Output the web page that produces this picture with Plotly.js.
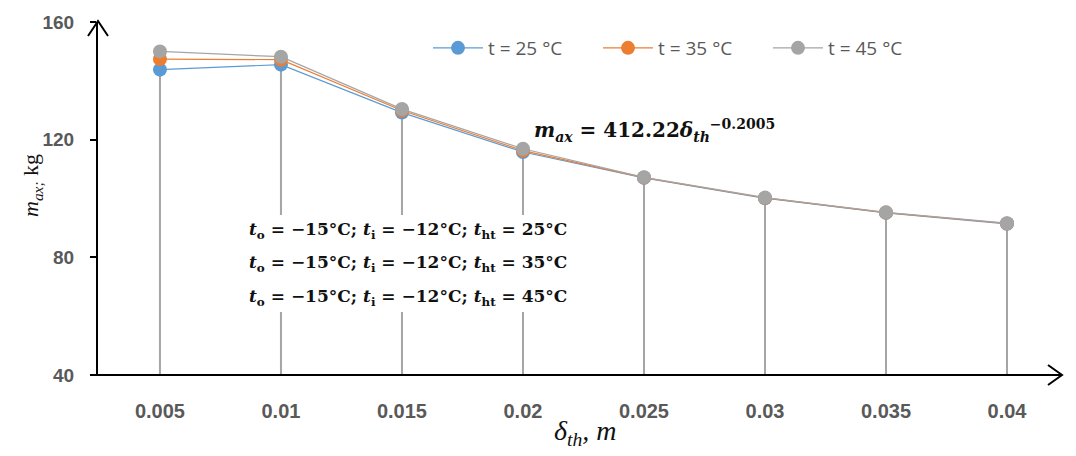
<!DOCTYPE html>
<html><head><meta charset="utf-8">
<script src="https://cdn.plot.ly/plotly-3.0.1.min.js"></script>
<style>body{margin:0;background:#fff}#c{width:1076px;height:456px}</style>
</head><body><div id="c"></div>
<script>
// Data
const thickness = [0.005, 0.01, 0.015, 0.02, 0.025, 0.03, 0.035, 0.04];
const tickLabels = ["0.005", "0.01", "0.015", "0.02", "0.025", "0.03", "0.035", "0.04"];
const m25 = [143.8, 145.5, 129.2, 115.8, 107.0, 100.1, 95.1, 91.4];
const m35 = [147.4, 147.2, 129.9, 116.3, 107.1, 100.2, 95.2, 91.5];
const m45 = [150.0, 148.2, 130.4, 116.9, 107.2, 100.3, 95.3, 91.6];
const seriesNames = ["t = 25 °C", "t = 35 °C", "t = 45 °C"];
const yMin = 40, yMax = 160;

const dropMinus = m45.map(v => v - yMin);

const traces = [
  {x: thickness, y: m45, type: 'scatter', mode: 'markers', showlegend: false, hoverinfo: 'skip',
   marker: {size: 1, opacity: 0},
   error_y: {type: 'data', symmetric: false, array: m45.map(() => 0), arrayminus: dropMinus,
             color: '#A5A5A5', thickness: 2, width: 0}},
  {x: thickness, y: m25, name: seriesNames[0], type: 'scatter', mode: 'lines+markers',
   line: {color: '#5B9BD5', width: 1.2}, marker: {color: '#5B9BD5', size: 14}},
  {x: thickness, y: m35, name: seriesNames[1], type: 'scatter', mode: 'lines+markers',
   line: {color: '#ED7D31', width: 1.2}, marker: {color: '#ED7D31', size: 14}},
  {x: thickness, y: m45, name: seriesNames[2], type: 'scatter', mode: 'lines+markers',
   line: {color: '#A5A5A5', width: 1.2}, marker: {color: '#A5A5A5', size: 14}}
];

const W = 962, H = 353; // plot area px
function px(x){return (x-98)/W;}
function py(y){return (375-y)/H;}

const condFont = {family: 'DejaVu Serif', size: 17, color: '#111', weight: 'bold'};
const condLines = [
  "<i>t</i><sub>o</sub> = −15°C; <i>t</i><sub>i</sub> = −12°C; <i>t</i><sub>ht</sub> = 25°C",
  "<i>t</i><sub>o</sub> = −15°C; <i>t</i><sub>i</sub> = −12°C; <i>t</i><sub>ht</sub> = 35°C",
  "<i>t</i><sub>o</sub> = −15°C; <i>t</i><sub>i</sub> = −12°C; <i>t</i><sub>ht</sub> = 45°C"
];
const condY = [230, 263, 297];

const annotations = condLines.map((t, i) => ({
  xref: 'paper', yref: 'paper', x: px(408), y: py(condY[i]), text: t, showarrow: false,
  font: condFont, xanchor: 'center', yanchor: 'middle'
}));
annotations.push({
  xref: 'paper', yref: 'paper', x: px(654), y: py(114),
  text: "<i>m</i><sub><i>ax</i></sub> = 412.22<i>δ</i><sub><i>th</i></sub><sup>−0.2005</sup>",
  showarrow: false, font: {family: 'DejaVu Serif', size: 20, color: '#111', weight: 'bold'}
});
annotations.push({
  xref: 'paper', yref: 'paper', x: px(16), y: py(186), textangle: -90,
  text: "<i>m</i><sub><i>ax;</i></sub> kg", showarrow: false,
  font: {family: 'Liberation Serif', size: 22, color: '#111'}
});
annotations.push({
  xref: 'paper', yref: 'paper', x: px(585), y: py(452),
  text: "<i>δ</i><sub><i>th</i></sub><i>, m</i>", showarrow: false,
  font: {family: 'Liberation Serif', size: 28, color: '#111'}
});

const shapes = [
  {type: 'rect', xref: 'paper', yref: 'paper', x0: px(238), x1: px(588), y0: py(215), y1: py(312),
   fillcolor: '#ffffff', line: {width: 0}, layer: 'above'},
  // y axis arrowhead
  {type: 'path', xref: 'paper', yref: 'paper',
   path: `M ${px(88)} ${py(36)} L ${px(98)} ${py(21)} L ${px(108)} ${py(36)}`,
   line: {color: '#000', width: 2}},
  // x axis line extension + arrowhead
  {type: 'line', xref: 'paper', yref: 'paper', x0: px(92), x1: px(1062), y0: 0, y1: 0,
   line: {color: '#000', width: 2}},
  {type: 'path', xref: 'paper', yref: 'paper',
   path: `M ${px(1048)} ${py(365)} L ${px(1062)} ${py(375)} L ${px(1048)} ${py(385)}`,
   line: {color: '#000', width: 2}}
];

const layout = {
  width: 1076, height: 456,
  margin: {l: 98, r: 16, t: 22, b: 81, autoexpand: false},
  paper_bgcolor: '#fff', plot_bgcolor: '#fff',
  showlegend: true,
  legend: {orientation: 'h', x: px(428), y: py(48), xanchor: 'left', yanchor: 'middle',
           font: {family: 'Open Sans', size: 19, color: '#595959'}, itemwidth: 50,
           entrywidth: 105, entrywidthmode: 'pixels',
           bgcolor: 'rgba(0,0,0,0)'},
  xaxis: {range: [0.00244, 0.04219], tickvals: thickness, ticktext: tickLabels,
          showgrid: false, zeroline: false, showline: false, ticks: '',
          ticklabelstandoff: 22, automargin: false,
          tickfont: {family: 'Liberation Sans', size: 20, color: '#595959', weight: 'bold'}},
  yaxis: {range: [yMin, yMax], tickvals: [40, 80, 120, 160], automargin: false,
          showgrid: false, zeroline: false, showline: true, linecolor: '#000', linewidth: 2,
          ticks: 'outside', ticklen: 6, tickwidth: 2, tickcolor: '#000', ticklabelstandoff: 12,
          tickfont: {family: 'Liberation Sans', size: 19, color: '#595959', weight: 'bold'}},
  annotations: annotations,
  shapes: shapes
};

Plotly.newPlot('c', traces, layout, {displayModeBar: false, staticPlot: true});
</script>
</body></html>
